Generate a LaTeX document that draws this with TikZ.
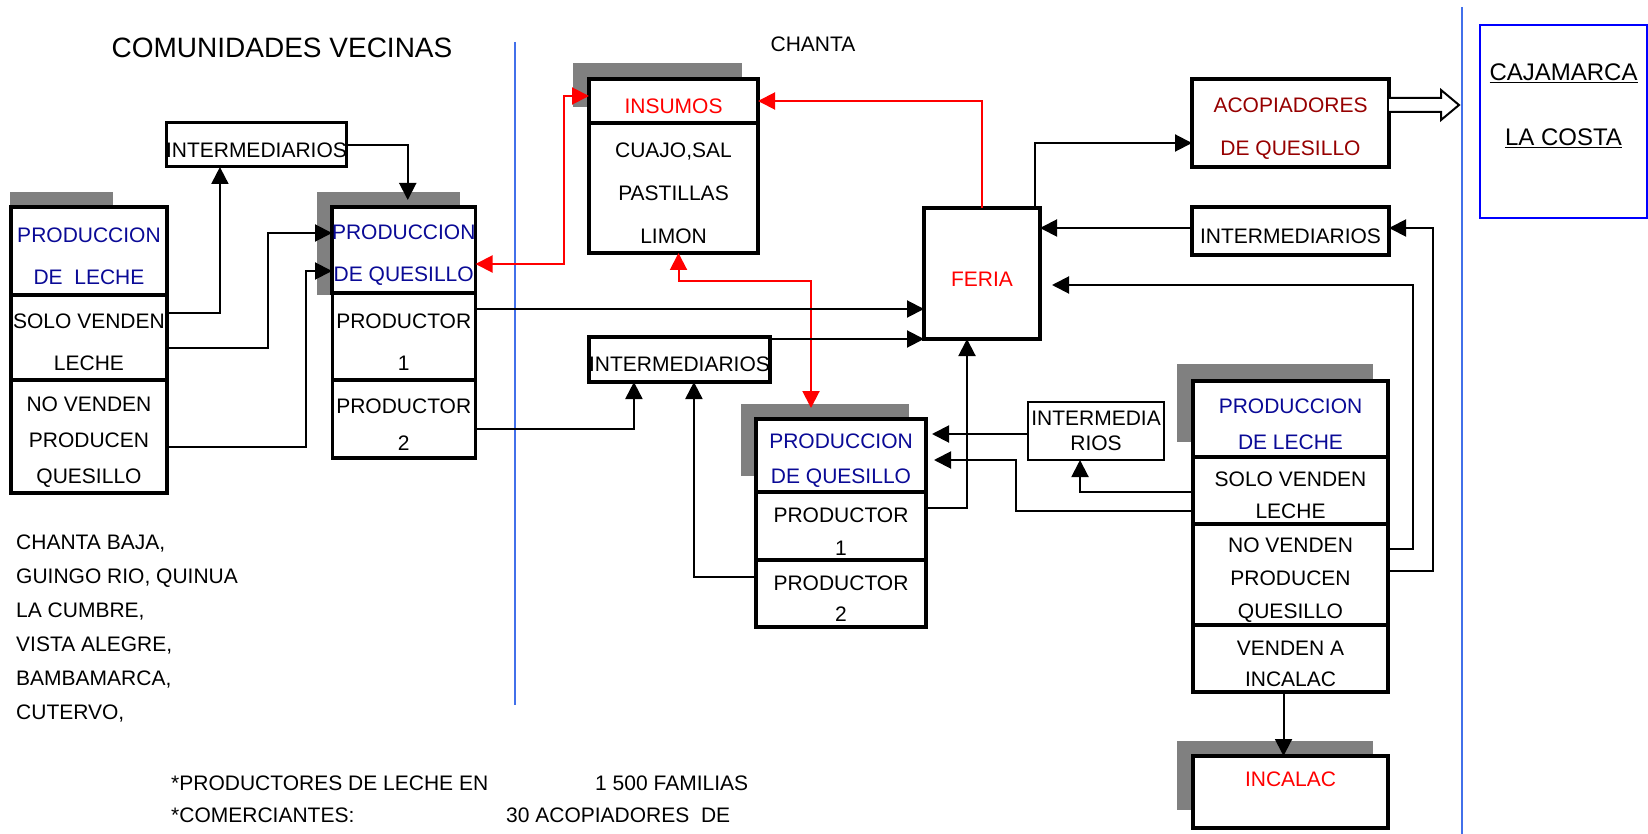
\documentclass[tikz,border=0pt]{standalone}
\usepackage{fontspec}
\setmainfont{Liberation Sans}
\usetikzlibrary{arrows.meta, backgrounds, calc, positioning}
\definecolor{prodblue}{RGB}{10,10,150}
\definecolor{acored}{RGB}{150,0,0}
\definecolor{sepblue}{RGB}{66,112,234}
\definecolor{shadowgray}{RGB}{128,128,128}
\newcommand{\lift}{\rule{0pt}{25pt}}
\tikzset{
    >={Triangle[length=17pt,width=17pt]},
    cell/.style={draw, line width=3.5pt, fill=white, inner sep=0pt, outer sep=0pt,
        align=center, font=\fontsize{21}{42}\selectfont},
    lh/.style={font=\fontsize{21}{#1}\selectfont},
    conn/.style={line width=2pt, ->},
    redconn/.style={conn, red},
    sepline/.style={sepblue, line width=2pt},
    txt/.style={inner sep=0pt, anchor=west, font=\fontsize{21}{25}\selectfont}
}
\begin{document}
\begin{tikzpicture}[x=1pt, y=-1pt]
    \useasboundingbox (0,0) rectangle (1648,834);
    \node[font=\fontsize{28}{32}\selectfont] (title) at (282,48) {COMUNIDADES VECINAS};
    \node[font=\fontsize{21}{25}\selectfont] (chanta) at (813,44) {CHANTA};
    \draw[sepline] (515,42) -- (515,705);
    \draw[sepline] (1462,7) -- (1462,834);
    % comunidades vecinas
    \node[cell, line width=3pt, minimum width=167pt, minimum height=44pt, anchor=north west] (im1) at (166,123) {\lift INTERMEDIARIOS};
    \node[cell, text=prodblue, minimum width=156pt, minimum height=88pt, anchor=north west] (lcA) at (11,207) {\lift PRODUCCION\\DE\ \ LECHE};
    \node[cell, minimum width=156pt, minimum height=85pt, below=0pt of lcA] (lcB) {\lift SOLO VENDEN\\LECHE};
    \node[cell, lh=36, minimum width=156pt, minimum height=113pt, below=0pt of lcB] (lcC) {\lift NO VENDEN\\PRODUCEN\\QUESILLO};
    \node[cell, text=prodblue, minimum width=143pt, minimum height=86pt, anchor=north west] (mcA) at (332,207) {\lift PRODUCCION\\DE QUESILLO};
    \node[cell, minimum width=143pt, minimum height=87pt, below=0pt of mcA] (mcB) {\lift PRODUCTOR\\1};
    \node[cell, lh=37, minimum width=143pt, minimum height=78pt, below=0pt of mcB] (mcC) {\lift PRODUCTOR\\2};
    % chanta
    \node[cell, text=red, minimum width=169pt, minimum height=44pt, anchor=north west] (insA) at (589,79) {\lift INSUMOS};
    \node[cell, lh=43, minimum width=169pt, minimum height=130pt, below=0pt of insA] (insB) {\lift CUAJO,SAL\\PASTILLAS\\LIMON};
    \node[cell, minimum width=169pt, minimum height=45pt, anchor=north west] (im2) at (589,337) {\lift INTERMEDIARIOS};
    \node[cell, text=red, minimum width=116pt, minimum height=131pt, anchor=north west] (fer) at (924,208) {\lift FERIA};
    \node[cell, lh=35, text=prodblue, minimum width=170pt, minimum height=73pt, anchor=north west] (lmcA) at (756,419) {\lift PRODUCCION\\DE QUESILLO};
    \node[cell, lh=33, minimum width=170pt, minimum height=68pt, below=0pt of lmcA] (lmcB) {\lift PRODUCTOR\\1};
    \node[cell, lh=31, minimum width=170pt, minimum height=67pt, below=0pt of lmcB] (lmcC) {\lift PRODUCTOR\\2};
    \node[cell, line width=2pt, lh=25, minimum width=136pt, minimum height=58pt, anchor=north west] (im4) at (1028,402) {INTERMEDIA\\RIOS};
    \node[cell, lh=43, text=acored, minimum width=197pt, minimum height=88pt, anchor=north west] (aco) at (1192,79) {\lift ACOPIADORES\\DE QUESILLO};
    \node[cell, minimum width=197pt, minimum height=48pt, anchor=north west] (im3) at (1192,207) {\lift INTERMEDIARIOS};
    \node[cell, lh=36, text=prodblue, minimum width=195pt, minimum height=76pt, anchor=north west] (rcA) at (1193,381) {\lift PRODUCCION\\DE LECHE};
    \node[cell, lh=32, minimum width=195pt, minimum height=67pt, below=0pt of rcA] (rcB) {\lift SOLO VENDEN\\LECHE};
    \node[cell, lh=33, minimum width=195pt, minimum height=101pt, below=0pt of rcB] (rcC) {\lift NO VENDEN\\PRODUCEN\\QUESILLO};
    \node[cell, lh=31, minimum width=195pt, minimum height=67pt, below=0pt of rcC] (rcD) {\lift VENDEN A\\INCALAC};
    \node[cell, lh=36, text=red, minimum width=195pt, minimum height=72pt, anchor=north west] (inc) at (1193,756) {\lift INCALAC\\\mbox{}};
    % cajamarca
    \node[draw=blue, line width=2pt, inner sep=0pt, minimum width=167pt, minimum height=193pt, anchor=north west] (caj) at (1479,24) {};
    \node[inner sep=0pt, align=center, font=\fontsize{24}{65}\selectfont, below=40pt of caj.north] (cajtxt) {\underline{CAJAMARCA}\\\underline{LA COSTA}};
    % sombras
    \begin{scope}[on background layer]
        \fill[shadowgray] ($(lcA.north west)+(-1,-15)$) rectangle ($(lcA.north west)+(102,0)$);
        \fill[shadowgray] ($(mcA.north west)+(-15,-15)$) rectangle ($(mcA.north west)+(128,88)$);
        \fill[shadowgray] ($(insA.north west)+(-16,-16)$) rectangle ($(insA.north west)+(153,28)$);
        \fill[shadowgray] ($(lmcA.north west)+(-15,-15)$) rectangle ($(lmcA.north west)+(153,57)$);
        \fill[shadowgray] ($(rcA.north west)+(-16,-17)$) rectangle ($(rcA.north west)+(180,61)$);
        \fill[shadowgray] ($(inc.north west)+(-16,-15)$) rectangle ($(inc.north west)+(180,54)$);
    \end{scope}
    % flujos
    \draw[conn] ($(lcB.east)+(0,-24.5)$) -| ($(im1.south)+(-36.5,0)$);
    \draw[conn] ($(lcB.east)+(0,10.5)$) -| ($(mcA.west)+(-64,-17)$) -- ($(mcA.west)+(0,-17)$);
    \draw[conn] ($(lcC.east)+(0,10.5)$) -| ($(mcA.west)+(-26,21)$) -- ($(mcA.west)+(0,21)$);
    \draw[conn] (im1.east) -| ($(mcA.north)+(4,-7)$);
    \draw[redconn, <->] ($(mcA.east)+(0,14)$) -| ($(insA.west)+(-25,-5)$) -- ($(insA.west)+(0,-5)$);
    \draw[redconn] (fer.north) |- (insA.east);
    \draw[redconn, <->] ($(insB.south)+(5,0)$) |- ($(lmcA.north)+(-30,-138)$) -- ($(lmcA.north)+(-30,-11)$);
    \draw[conn] ($(mcB.east)+(0,-27.5)$) -- ($(fer.west)+(0,35.5)$);
    \draw[conn] ($(im2.north east)+(0,2)$) -- (fer.south west);
    \draw[conn] ($(mcC.east)+(0,10)$) -| ($(im2.south)+(-45.5,0)$);
    \draw[conn] ($(lmcC.west)+(0,-16.5)$) -| ($(im2.south)+(14.5,0)$);
    \draw[conn] ($(lmcB.east)+(0,-18)$) -| ($(fer.south)+(-15,0)$);
    \draw[conn] ($(fer.north east)+(-5,0)$) |- ($(aco.west)+(0,20)$);
    \draw[line width=2pt, fill=white] ($(aco.east)+(0,-25)$) -- ++(52,0) -- ++(0,-8) -- ++(18,15) -- ++(-18,15) -- ++(0,-8) -- ++(-52,0);
    \draw[conn] ($(im3.west)+(0,-3)$) -- ($(fer.east)+(0,-45.5)$);
    \draw[conn] ($(rcC.east)+(0,-3.5)$) -| ($(im3.east)+(44,-3)$) -- ($(im3.east)+(0,-3)$);
    \draw[conn] ($(rcC.east)+(0,-25.5)$) -| ($(fer.east)+(373,11.5)$) -- ($(fer.east)+(12,11.5)$);
    \draw[conn] ($(rcD.south)+(-7,0)$) -- ($(inc.north)+(-7,0)$);
    \draw[conn] ($(im4.west)+(0,3)$) -- ($(lmcA.east)+(6,-21.5)$);
    \draw[conn] ($(rcB.west)+(0,20.5)$) -| ($(lmcA.east)+(90,4.5)$) -- ($(lmcA.east)+(8,4.5)$);
    \draw[conn] ($(rcB.west)+(0,1.5)$) -| ($(im4.south)+(-16,0)$);
    % comunidades y datos
    \foreach \name [count=\i] in {{CHANTA BAJA,}, {GUINGO RIO, QUINUA}, {LA CUMBRE,}, {VISTA ALEGRE,}, {BAMBAMARCA,}, {CUTERVO,}}
        \node[txt] (com\i) at (16, 510+34*\i) {\name};
    \node[txt] (prodleche) at (171,783) {*PRODUCTORES DE LECHE EN};
    \node[txt] (familias) at (595,783) {1 500 FAMILIAS};
    \node[txt] (comerc) at (171,815) {*COMERCIANTES:};
    \node[txt] (acopnum) at (506,815) {30 ACOPIADORES\ \ DE};
\end{tikzpicture}
\end{document}
